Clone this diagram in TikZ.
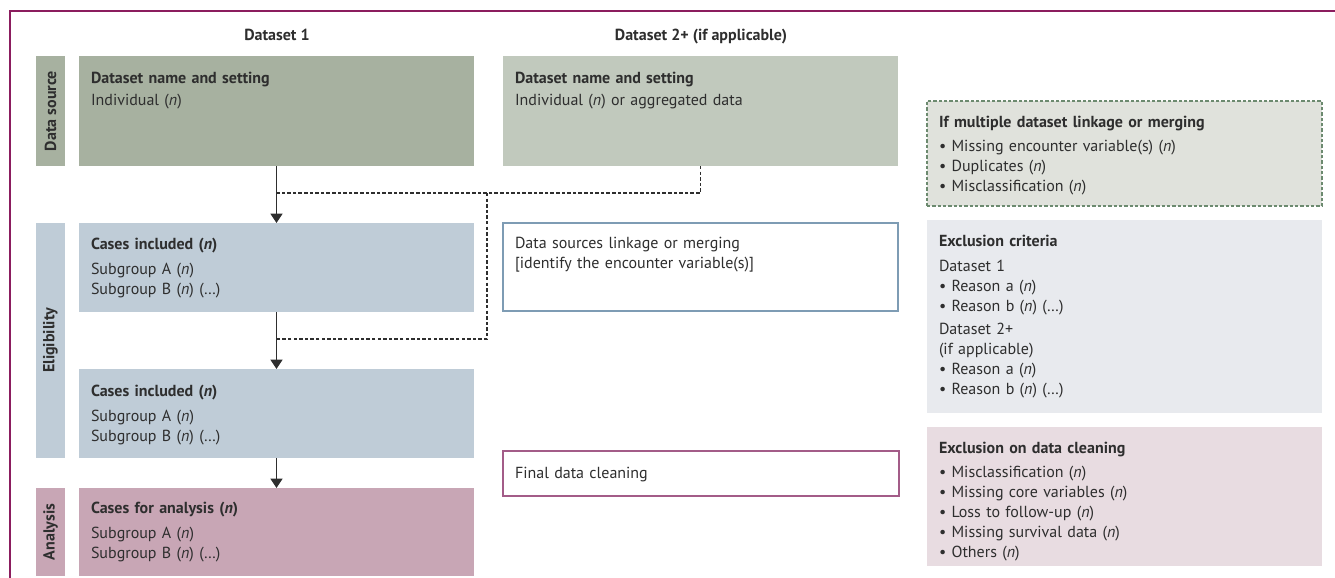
\documentclass[tikz,border=0pt]{standalone}
\usepackage{fontspec}
\setmainfont{PT Sans}
\usetikzlibrary{arrows.meta}
\definecolor{ink}{HTML}{2E2E2E}
\definecolor{frame}{HTML}{8B1D5E}
\definecolor{srcdark}{HTML}{A7B1A0}
\definecolor{srclight}{HTML}{C1C9BD}
\definecolor{elig}{HTML}{BFCCD7}
\definecolor{anal}{HTML}{C8A6B5}
\definecolor{multifill}{HTML}{E0E2DC}
\definecolor{multiline}{HTML}{6C8A6F}
\definecolor{exclfill}{HTML}{E8EAEE}
\definecolor{cleanfill}{HTML}{E8DCE1}
\definecolor{linkline}{HTML}{7E9CB4}
\definecolor{cleanline}{HTML}{A35C88}
\begin{document}
\begin{tikzpicture}[x=0.75pt,y=-0.75pt,
    every node/.style={inner sep=0pt, outer sep=0pt},
    blk/.style n args={3}{anchor=north west, fill=#1, minimum width=#2*0.75pt, minimum height=#3*0.75pt},
    txt/.style={anchor=base west, align=left, text width=280pt, font=\fontsize{12}{15}\selectfont, text=ink},
    side/.style={rotate=90, font=\fontsize{12}{15}\selectfont\bfseries, text=ink},
    head/.style={anchor=base, font=\fontsize{12}{15}\selectfont\bfseries, text=ink},
    flow/.style={ink, line width=0.9pt, -{Triangle[width=9pt,length=7pt]}},
    merge/.style={ink, line width=0.9pt, dash pattern=on 2.6pt off 1.6pt}]
  \useasboundingbox (0,0) rectangle (1335,578);
  \draw[frame, line width=1.6pt] (10,578) |- (1335,11);

  \node[head] (h1) at (277,40) {Dataset 1};
  \node[head] (h2) at (701,40) {Dataset 2+ (if applicable)};

  \node[blk={srcdark}{29}{110}] (barsrc) at (36,56) {};
  \node[blk={elig}{29}{235}] (barelig) at (36,223) {};
  \node[blk={anal}{29}{88}] (barana) at (36,488) {};
  \node[side] (lsrc) at (barsrc.center) {Data source};
  \node[side] (lelig) at (barelig.center) {Eligibility};
  \node[side] (lana) at (barana.center) {Analysis};

  \node[blk={srcdark}{395}{110}] (ds1) at (79,56) {};
  \node[blk={srclight}{395}{110}] (ds2) at (503,56) {};
  \node[blk={elig}{395}{89}] (inc1) at (79,223) {};
  \node[blk={elig}{395}{89}] (inc2) at (79,369) {};
  \node[blk={anal}{395}{88}] (ana) at (79,488) {};
  \node[blk={white}{395}{88}, draw=linkline, line width=0.9pt] (link) at (503,223) {};
  \node[blk={white}{396}{45}, draw=cleanline, line width=0.9pt] (clean) at (503,451) {};
  \node[blk={multifill}{395}{105}, draw=multiline, line width=0.9pt, dash pattern=on 2.4pt off 1.6pt] (multi) at (927,101) {};
  \node[blk={exclfill}{395}{193}] (excl) at (927,220) {};
  \node[blk={cleanfill}{395}{139}] (exclean) at (927,427) {};

  \node[txt] (ds1txt) at (91,83) {\textbf{Dataset name and setting}\\[1.5pt] Individual (\textit{n})};
  \node[txt] (ds2txt) at (515,83) {\textbf{Dataset name and setting}\\[1.5pt] Individual (\textit{n}) or aggregated data};
  \node[txt] (inc1txt) at (91,249) {\textbf{Cases included (\textit{n})}\\[3.75pt] Subgroup A (\textit{n})\\ Subgroup B (\textit{n}) (…)};
  \node[txt] (inc2txt) at (91,396) {\textbf{Cases included (\textit{n})}\\[3.75pt] Subgroup A (\textit{n})\\ Subgroup B (\textit{n}) (…)};
  \node[txt] (anatxt) at (91,513) {\textbf{Cases for analysis (\textit{n})}\\[3.75pt] Subgroup A (\textit{n})\\ Subgroup B (\textit{n}) (…)};
  \node[txt] (linktxt) at (515,248) {Data sources linkage or merging\\ {[}identify the encounter variable(s){]}};
  \node[txt] (cleantxt) at (515,478) {Final data cleaning};
  \node[txt] (multitxt) at (939,127) {\textbf{If multiple dataset linkage or merging}\\[3pt]
    \textbullet\ Missing encounter variable(s) (\textit{n})\\ \textbullet\ Duplicates (\textit{n})\\ \textbullet\ Misclassification (\textit{n})};
  \node[txt] (excltxt) at (939,246) {\textbf{Exclusion criteria}\\[3.75pt] Dataset 1\\ \textbullet\ Reason a (\textit{n})\\ \textbullet\ Reason b (\textit{n}) (…)\\[2.25pt]
    Dataset 2+\\ (if applicable)\\ \textbullet\ Reason a (\textit{n})\\ \textbullet\ Reason b (\textit{n}) (…)};
  \node[txt] (excleantxt) at (939,453) {\textbf{Exclusion on data cleaning}\\[3pt]
    \textbullet\ Misclassification (\textit{n})\\ \textbullet\ Missing core variables (\textit{n})\\ \textbullet\ Loss to follow-up (\textit{n})\\
    \textbullet\ Missing survival data (\textit{n})\\ \textbullet\ Others (\textit{n})};

  \coordinate (j1) at (277,193);
  \coordinate (j2) at (487,193);
  \coordinate (j3) at (277,339);
  \draw[flow] (ds1.south) -- (inc1.north);
  \draw[flow] (inc1.south) -- (inc2.north);
  \draw[flow] (inc2.south) -- (ana.north);
  \draw[merge] (ds2.south) |- (j1);
  \draw[merge] (j2) |- (j3);
\end{tikzpicture}
\end{document}
